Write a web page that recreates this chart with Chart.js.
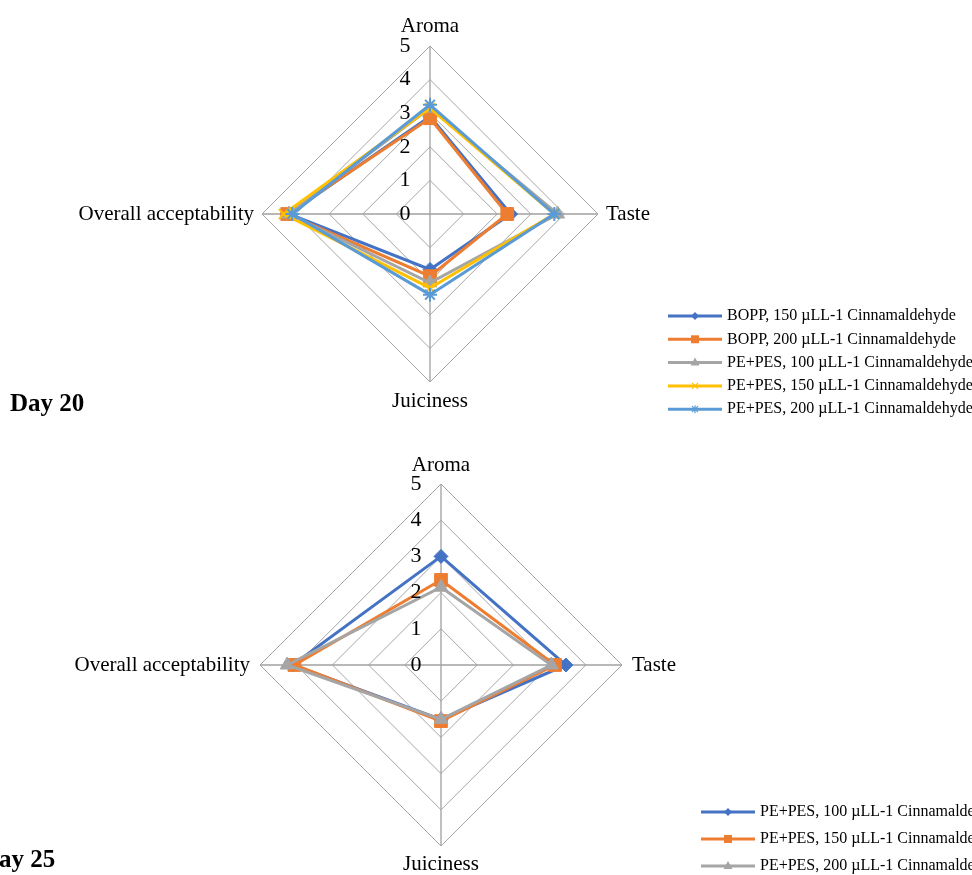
<!DOCTYPE html>
<html>
<head>
<meta charset="utf-8">
<script src="https://cdn.jsdelivr.net/npm/chart.js@4/dist/chart.umd.min.js"></script>
<style>
  body { margin: 0; background: #fff; width: 972px; height: 875px; overflow: hidden; position: relative; }
  canvas { position: absolute; left: 0; }
</style>
</head>
<body>
<canvas id="day20" width="972" height="440" style="top:0"></canvas>
<canvas id="day25" width="972" height="435" style="top:440px"></canvas>
<script>
const attributes = ['Aroma', 'Taste', 'Juiciness', 'Overall acceptability'];
const tickValues = [0, 1, 2, 3, 4, 5];

// Day 20
const day20Names = [
    'BOPP, 150 µLL-1 Cinnamaldehyde',
    'BOPP, 200 µLL-1 Cinnamaldehyde',
    'PE+PES, 100 µLL-1 Cinnamaldehyde',
    'PE+PES, 150 µLL-1 Cinnamaldehyde',
    'PE+PES, 200 µLL-1 Cinnamaldehyde'
];
const bopp150Day20 = [2.9, 2.4, 1.65, 4.2];
const bopp200Day20 = [2.85, 2.3, 1.85, 4.25];
const pe100Day20 = [3.15, 3.8, 2.05, 4.2];
const pe150Day20 = [3.15, 3.7, 2.2, 4.35];
const pe200Day20 = [3.25, 3.7, 2.4, 4.1];

// Day 25
const day25Names = [
    'PE+PES, 100 µLL-1 Cinnamaldehyde',
    'PE+PES, 150 µLL-1 Cinnamaldehyde',
    'PE+PES, 200 µLL-1 Cinnamaldehyde'
];
const pe100Day25 = [3.0, 3.45, 1.5, 4.1];
const pe150Day25 = [2.35, 3.15, 1.55, 4.05];
const pe200Day25 = [2.15, 3.05, 1.5, 4.25];

const colors = ['#4472C4', '#ED7D31', '#A5A5A5', '#FFC000', '#5B9BD5'];
const markers = ['rectRot', 'rect', 'triangle', 'crossRot', 'star'];
const markerSizes = [7, 9, 8, 7, 7];
const serif = '"Liberation Serif", "Times New Roman", serif';

function makeDatasets(names, series) {
    return series.map((values, i) => ({
        label: names[i],
        data: values,
        borderColor: colors[i],
        backgroundColor: colors[i],
        pointBackgroundColor: colors[i],
        pointBorderColor: colors[i],
        pointStyle: markers[i],
        pointRadius: markerSizes[i],
        pointBorderWidth: (markers[i] === 'crossRot' || markers[i] === 'star') ? 2 : 1,
        borderWidth: 3,
        fill: false,
        order: series.length - i
    }));
}

// small legend marker
function legendMarker(ctx, style, x, y, color) {
    ctx.fillStyle = color;
    ctx.strokeStyle = color;
    ctx.lineWidth = 1.2;
    ctx.beginPath();
    if (style === 'rectRot') {
        ctx.moveTo(x, y - 4); ctx.lineTo(x + 4, y); ctx.lineTo(x, y + 4); ctx.lineTo(x - 4, y);
        ctx.closePath(); ctx.fill();
    } else if (style === 'rect') {
        ctx.rect(x - 4, y - 4, 8, 8); ctx.fill();
    } else if (style === 'triangle') {
        ctx.moveTo(x, y - 5); ctx.lineTo(x + 4.5, y + 3); ctx.lineTo(x - 4.5, y + 3);
        ctx.closePath(); ctx.fill();
    } else if (style === 'crossRot') {
        ctx.moveTo(x - 3, y - 3); ctx.lineTo(x + 3, y + 3);
        ctx.moveTo(x + 3, y - 3); ctx.lineTo(x - 3, y + 3);
        ctx.stroke();
    } else {
        ctx.moveTo(x - 3, y - 3); ctx.lineTo(x + 3, y + 3);
        ctx.moveTo(x + 3, y - 3); ctx.lineTo(x - 3, y + 3);
        ctx.moveTo(x, y - 4); ctx.lineTo(x, y + 4);
        ctx.stroke();
    }
}

// labels, ticks, legend and day caption drawn with the scale's own positions
const decorations = {
    id: 'decorations',
    afterDraw(chart, args, opts) {
        const ctx = chart.ctx;
        const r = chart.scales.r;
        ctx.save();
        ctx.fillStyle = '#000';

        // tick numbers, left of the vertical axis
        ctx.font = '22px ' + serif;
        ctx.textAlign = 'center';
        ctx.textBaseline = 'middle';
        tickValues.forEach((v) => {
            const d = r.getDistanceFromCenterForValue(v);
            ctx.fillText(String(v), r.xCenter - 25, r.yCenter - d);
        });

        // point labels
        ctx.font = '21px ' + serif;
        const outer = r.getDistanceFromCenterForValue(5);
        attributes.forEach((label, i) => {
            const p = r.getPointPosition(i, outer);
            if (i === 0) {
                ctx.textAlign = 'center'; ctx.textBaseline = 'bottom';
                ctx.fillText(label, p.x, p.y - opts.gapV);
            } else if (i === 1) {
                ctx.textAlign = 'left'; ctx.textBaseline = 'middle';
                ctx.fillText(label, p.x + opts.gapH, p.y);
            } else if (i === 2) {
                ctx.textAlign = 'center'; ctx.textBaseline = 'top';
                ctx.fillText(label, p.x, p.y + opts.gapV);
            } else {
                ctx.textAlign = 'right'; ctx.textBaseline = 'middle';
                ctx.fillText(label, p.x - opts.gapH, p.y);
            }
        });

        // legend
        ctx.font = '16px ' + serif;
        ctx.textAlign = 'left';
        ctx.textBaseline = 'middle';
        chart.data.datasets.forEach((ds, i) => {
            const y = opts.legendY + i * opts.legendStep;
            const x0 = opts.legendX;
            ctx.strokeStyle = ds.borderColor;
            ctx.lineWidth = 3;
            ctx.beginPath();
            ctx.moveTo(x0, y);
            ctx.lineTo(x0 + 54, y);
            ctx.stroke();
            legendMarker(ctx, ds.pointStyle, x0 + 27, y, ds.borderColor);
            ctx.fillStyle = '#000';
            ctx.fillText(ds.label, x0 + 59, y);
        });

        // day caption
        ctx.font = 'bold 25px ' + serif;
        ctx.textAlign = 'left';
        ctx.textBaseline = 'middle';
        ctx.fillStyle = '#000';
        ctx.fillText(opts.caption, opts.captionX, opts.captionY);
        ctx.restore();
    }
};

function radarOptions(padding, deco) {
    return {
        responsive: false,
        animation: false,
        layout: { padding: padding },
        plugins: {
            legend: { display: false },
            tooltip: { enabled: false },
            decorations: deco
        },
        elements: { line: { tension: 0 } },
        scales: {
            r: {
                min: 0,
                max: 5,
                beginAtZero: true,
                ticks: { display: false, stepSize: 1 },
                pointLabels: { display: false },
                grid: { circular: false, color: '#A6A6A6', lineWidth: 1 },
                angleLines: { color: '#A0A0A0', lineWidth: 1.3 }
            }
        }
    };
}

new Chart(document.getElementById('day20'), {
    type: 'radar',
    data: {
        labels: attributes,
        datasets: makeDatasets(day20Names, [bopp150Day20, bopp200Day20, pe100Day20, pe150Day20, pe200Day20])
    },
    options: radarOptions(
        { left: 262, right: 374, top: 46, bottom: 58 },
        { gapV: 9, gapH: 8, legendX: 668, legendY: 316, legendStep: 23.3, caption: 'Day 20', captionX: 10, captionY: 405 }
    ),
    plugins: [decorations]
});

new Chart(document.getElementById('day25'), {
    type: 'radar',
    data: {
        labels: attributes,
        datasets: makeDatasets(day25Names, [pe100Day25, pe150Day25, pe200Day25])
    },
    options: radarOptions(
        { left: 260, right: 350, top: 44, bottom: 29 },
        { gapV: 8, gapH: 10, legendX: 701, legendY: 372, legendStep: 27, caption: 'Day 25', captionX: -19, captionY: 421 }
    ),
    plugins: [decorations]
});
</script>
</body>
</html>
